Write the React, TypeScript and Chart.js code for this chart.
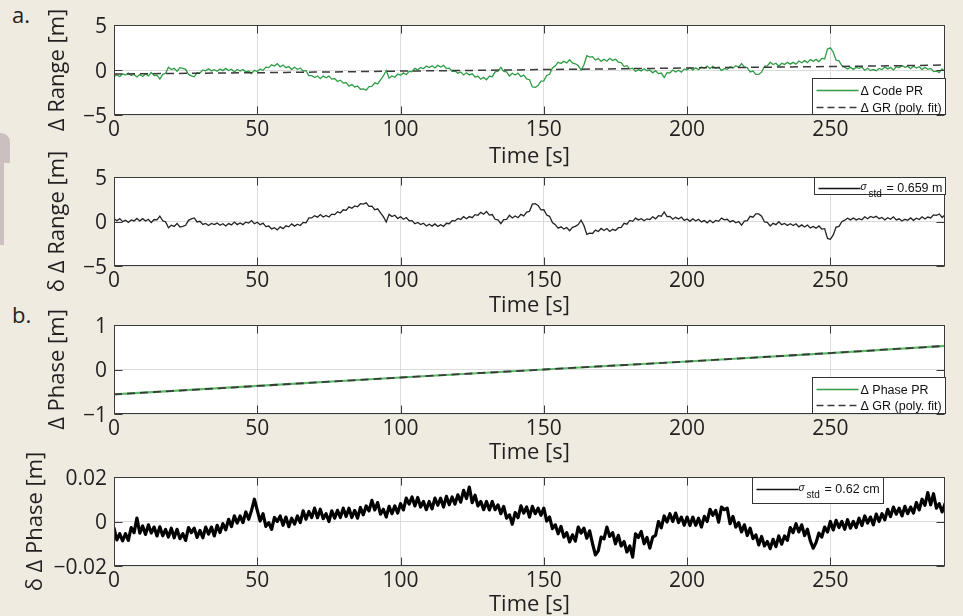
import { useEffect, useRef } from 'react';
import { Chart, registerables } from 'chart.js';

Chart.register(...registerables);

// ---------- data ----------
const X_TICKS = [0, 50, 100, 150, 200, 250];
const X_MAX = 290;
const RANGE_Y_TICKS = [-5, 0, 5];
const PHASE_Y_TICKS = [-1, 0, 1];
const PHASE_RES_Y_TICKS = [-0.02, 0, 0.02];

// sample times (1 s sampling) for the dense series
const TIME = Array.from({ length: 291 }, (_, i) => i);

// a. Δ Code PR [m]
const CODE_PR = [
  -0.75, -0.52, -0.75, -0.42, -0.56, -0.33, -0.61, -0.49, -0.77, -0.50,
  -0.72, -0.45, -0.65, -0.28, -0.62, -0.58, -1.00, -0.48, -0.37, 0.30,
  0.05, 0.19, -0.14, 0.26, 0.19, 0.07, -0.49, -0.66, -0.76, -0.31,
  -0.34, 0.01, -0.10, 0.13, -0.10, 0.03, -0.14, 0.10, -0.07, 0.18,
  -0.06, 0.09, -0.22, 0.06, -0.12, 0.06, -0.22, -0.11, -0.39, -0.04,
  -0.17, 0.11, -0.06, 0.32, 0.26, 0.58, 0.44, 0.70, 0.35, 0.55,
  0.26, 0.38, 0.05, 0.30, 0.08, 0.23, -0.12, -0.07, -0.62, -0.62,
  -0.83, -0.67, -0.96, -0.68, -0.86, -0.68, -1.01, -0.95, -1.28, -1.13,
  -1.46, -1.39, -1.79, -1.62, -1.89, -1.79, -2.14, -2.09, -2.24, -1.84,
  -1.83, -1.43, -1.54, -1.09, -0.66, -0.06, -0.91, -0.66, -0.81, -0.46,
  -0.59, -0.32, -0.52, -0.15, -0.17, 0.18, 0.03, 0.28, 0.13, 0.44,
  0.27, 0.48, 0.23, 0.51, 0.33, 0.51, 0.16, 0.21, -0.14, -0.11,
  -0.35, -0.22, -0.55, -0.31, -0.55, -0.43, -0.77, -0.70, -1.03, -0.82,
  -1.08, -0.68, -0.74, -0.21, -0.14, 0.29, -0.16, -0.21, -0.66, -0.36,
  -0.55, -0.35, -0.73, -0.56, -0.98, -1.08, -1.88, -1.93, -1.73, -1.23,
  -1.21, -0.61, -0.47, 0.23, 0.46, 0.86, 0.71, 0.96, 0.78, 1.14,
  0.79, 0.69, 0.49, -0.01, 0.59, 1.59, 1.44, 1.49, 1.11, 1.27,
  0.96, 1.19, 0.97, 1.30, 1.06, 1.20, 0.88, 0.83, 0.38, 0.48,
  0.10, 0.20, -0.16, 0.04, -0.10, 0.14, -0.08, 0.00, -0.31, -0.08,
  -0.40, -0.34, -0.83, -0.30, -0.33, 0.00, -0.22, -0.03, -0.25, 0.12,
  0.00, 0.27, -0.02, 0.24, 0.04, 0.34, 0.19, 0.44, 0.16, 0.42,
  0.20, 0.30, -0.06, 0.14, 0.07, 0.37, 0.22, 0.47, 0.32, 0.72,
  0.31, 0.27, -0.22, -0.12, -0.49, -0.49, -0.24, 0.41, 0.46, 0.86,
  0.61, 0.75, 0.42, 0.75, 0.62, 0.85, 0.65, 0.85, 0.65, 1.00,
  0.81, 1.04, 0.82, 1.15, 0.98, 1.18, 0.93, 1.28, 1.23, 2.33,
  2.47, 1.97, 1.09, 1.02, 0.49, 0.32, 0.10, 0.29, 0.07, 0.29,
  0.18, 0.31, -0.03, 0.19, -0.07, 0.05, -0.08, 0.18, 0.05, 0.32,
  0.12, 0.29, 0.01, 0.36, 0.24, 0.49, 0.29, 0.41, 0.14, 0.41,
  0.21, 0.36, 0.05, 0.30, 0.08, 0.18, -0.17, -0.12, -0.27, 0.13,
  -0.16,
];

// a. Δ GR (poly. fit) [m]
const GR_FIT_T = [0, 10, 20, 30, 40, 50, 60, 70, 80, 90, 100, 110, 120, 130, 140, 150, 160, 170, 180, 190, 200, 210, 220, 230, 240, 250, 260, 270, 280, 290];
const GR_FIT = [-0.45, -0.42, -0.39, -0.36, -0.33, -0.30, -0.27, -0.23, -0.20, -0.16, -0.12, -0.09, -0.06, -0.03, 0.01, 0.05, 0.08, 0.11, 0.15, 0.18, 0.22, 0.26, 0.29, 0.32, 0.36, 0.39, 0.42, 0.46, 0.50, 0.55];

// a. δ Δ Range [m]
const RANGE_RESID = [
  0.32, 0.09, 0.32, -0.01, 0.13, -0.10, 0.18, 0.06, 0.34, 0.07,
  0.32, 0.05, 0.25, -0.12, 0.22, 0.18, 0.60, 0.08, -0.03, -0.70,
  -0.41, -0.55, -0.22, -0.62, -0.55, -0.43, 0.13, 0.30, 0.40, -0.05,
  0.02, -0.33, -0.22, -0.45, -0.22, -0.35, -0.18, -0.42, -0.25, -0.50,
  -0.23, -0.38, -0.07, -0.35, -0.17, -0.35, -0.07, -0.18, 0.10, -0.25,
  -0.08, -0.36, -0.19, -0.57, -0.51, -0.83, -0.69, -0.95, -0.60, -0.80,
  -0.48, -0.60, -0.27, -0.52, -0.30, -0.45, -0.10, -0.15, 0.40, 0.40,
  0.65, 0.49, 0.78, 0.50, 0.68, 0.50, 0.83, 0.77, 1.10, 0.95,
  1.32, 1.25, 1.65, 1.48, 1.75, 1.65, 2.00, 1.95, 2.10, 1.70,
  1.72, 1.32, 1.43, 0.98, 0.55, -0.05, 0.80, 0.55, 0.70, 0.35,
  0.52, 0.25, 0.45, 0.08, 0.10, -0.25, -0.10, -0.35, -0.20, -0.51,
  -0.31, -0.52, -0.27, -0.55, -0.37, -0.55, -0.20, -0.25, 0.10, 0.07,
  0.35, 0.22, 0.55, 0.31, 0.55, 0.43, 0.77, 0.70, 1.03, 0.82,
  1.12, 0.72, 0.78, 0.25, 0.18, -0.25, 0.20, 0.25, 0.70, 0.40,
  0.62, 0.42, 0.80, 0.63, 1.05, 1.15, 1.95, 2.00, 1.80, 1.30,
  1.32, 0.72, 0.58, -0.12, -0.35, -0.75, -0.60, -0.85, -0.67, -1.03,
  -0.65, -0.55, -0.35, 0.15, -0.45, -1.45, -1.30, -1.35, -0.97, -1.13,
  -0.78, -1.01, -0.79, -1.12, -0.88, -1.02, -0.70, -0.65, -0.20, -0.30,
  0.12, 0.02, 0.38, 0.18, 0.32, 0.08, 0.30, 0.22, 0.53, 0.30,
  0.65, 0.59, 1.08, 0.55, 0.58, 0.25, 0.47, 0.28, 0.50, 0.13,
  0.29, 0.02, 0.31, 0.05, 0.25, -0.05, 0.10, -0.15, 0.13, -0.13,
  0.12, 0.02, 0.38, 0.18, 0.25, -0.05, 0.10, -0.15, 0.00, -0.40,
  0.05, 0.09, 0.58, 0.48, 0.85, 0.85, 0.60, -0.05, -0.10, -0.50,
  -0.21, -0.35, -0.02, -0.35, -0.22, -0.45, -0.25, -0.45, -0.25, -0.60,
  -0.38, -0.61, -0.39, -0.72, -0.55, -0.75, -0.50, -0.85, -0.80, -1.90,
  -2.00, -1.50, -0.62, -0.55, -0.02, 0.15, 0.37, 0.18, 0.40, 0.18,
  0.32, 0.19, 0.53, 0.31, 0.57, 0.45, 0.58, 0.32, 0.45, 0.18,
  0.42, 0.25, 0.53, 0.18, 0.30, 0.05, 0.25, 0.13, 0.40, 0.13,
  0.37, 0.22, 0.53, 0.28, 0.50, 0.40, 0.75, 0.70, 0.85, 0.45,
  0.75,
];

// b. Δ Phase PR and Δ GR (poly. fit) [m]
const PHASE_T = [0, 50, 100, 150, 200, 250, 290];
const PHASE_PR = [-0.56, -0.37, -0.18, 0.0, 0.18, 0.37, 0.53];
const PHASE_GR_FIT = [-0.56, -0.37, -0.18, 0.0, 0.18, 0.37, 0.53];

// b. δ Δ Phase [m]
const PHASE_RESID = [
  -0.0030, -0.0083, -0.0055, -0.0087, -0.0055, -0.0085, -0.0027, -0.0050, 0.0015, -0.0052,
  -0.0020, -0.0058, -0.0015, -0.0052, -0.0025, -0.0065, -0.0024, -0.0064, -0.0036, -0.0070,
  -0.0030, -0.0073, -0.0035, -0.0077, -0.0055, -0.0085, -0.0027, -0.0050, -0.0030, -0.0072,
  -0.0040, -0.0073, -0.0025, -0.0057, -0.0025, -0.0065, -0.0017, -0.0050, -0.0010, -0.0037,
  0.0010, -0.0023, 0.0025, -0.0007, 0.0025, -0.0005, 0.0043, 0.0010, 0.0050, 0.0100,
  0.0050, 0.0002, 0.0035, -0.0022, -0.0005, -0.0035, 0.0018, 0.0000, 0.0025, -0.0017,
  0.0020, -0.0023, 0.0015, -0.0012, 0.0025, -0.0005, 0.0048, 0.0010, 0.0045, 0.0018,
  0.0060, 0.0017, 0.0055, 0.0013, 0.0035, 0.0000, 0.0048, 0.0015, 0.0050, 0.0018,
  0.0060, 0.0022, 0.0060, 0.0018, 0.0050, 0.0015, 0.0063, 0.0030, 0.0070, 0.0048,
  0.0095, 0.0052, 0.0085, 0.0033, 0.0055, 0.0020, 0.0068, 0.0035, 0.0070, 0.0038,
  0.0080, 0.0052, 0.0105, 0.0078, 0.0110, 0.0070, 0.0108, 0.0065, 0.0090, 0.0053,
  0.0090, 0.0057, 0.0105, 0.0073, 0.0105, 0.0065, 0.0113, 0.0075, 0.0110, 0.0078,
  0.0120, 0.0087, 0.0140, 0.0103, 0.0155, 0.0085, 0.0118, 0.0070, 0.0090, 0.0053,
  0.0090, 0.0052, 0.0090, 0.0053, 0.0075, 0.0035, 0.0068, 0.0015, 0.0030, -0.0012,
  0.0040, 0.0017, 0.0070, 0.0038, 0.0065, 0.0020, 0.0068, 0.0035, 0.0060, 0.0028,
  0.0060, 0.0002, 0.0020, -0.0032, -0.0015, -0.0055, -0.0022, -0.0070, -0.0050, -0.0092,
  -0.0060, -0.0088, -0.0025, -0.0052, -0.0030, -0.0075, -0.0042, -0.0100, -0.0150, -0.0132,
  -0.0070, -0.0078, -0.0025, -0.0067, -0.0050, -0.0100, -0.0062, -0.0110, -0.0090, -0.0137,
  -0.0110, -0.0160, -0.0055, -0.0072, -0.0045, -0.0100, -0.0072, -0.0120, -0.0070, -0.0062,
  0.0000, -0.0028, 0.0025, -0.0002, 0.0035, 0.0000, 0.0038, -0.0005, 0.0020, -0.0017,
  0.0020, -0.0018, 0.0020, -0.0017, 0.0015, -0.0025, 0.0023, 0.0000, 0.0055, 0.0028,
  0.0050, -0.0003, 0.0065, 0.0053, 0.0060, -0.0010, 0.0023, -0.0025, -0.0005, -0.0047,
  -0.0015, -0.0063, -0.0030, -0.0077, -0.0060, -0.0105, -0.0067, -0.0110, -0.0090, -0.0122,
  -0.0080, -0.0113, -0.0065, -0.0102, -0.0065, -0.0085, -0.0027, -0.0050, -0.0010, -0.0047,
  -0.0015, -0.0063, -0.0035, -0.0087, -0.0120, -0.0095, -0.0052, -0.0070, -0.0025, -0.0047,
  0.0000, -0.0038, 0.0005, -0.0027, 0.0000, -0.0035, 0.0008, -0.0030, 0.0000, -0.0027,
  0.0015, -0.0018, 0.0025, -0.0007, 0.0020, -0.0015, 0.0033, 0.0000, 0.0035, 0.0008,
  0.0055, 0.0022, 0.0065, 0.0033, 0.0060, 0.0025, 0.0068, 0.0035, 0.0065, 0.0038,
  0.0085, 0.0052, 0.0100, 0.0073, 0.0130, 0.0075, 0.0125, 0.0060, 0.0080, 0.0043,
  0.0080,
];

// ---------- styling ----------
const FONT = "'Open Sans', 'DejaVu Sans', sans-serif";
const LEGEND_FONT = "'Liberation Sans', Arial, sans-serif";
const TEXT = '#231f20';
const GREEN = '#2e9d45';
const DASH = '#3a3a3a';
const BG = '#efebe1';

type LegendItem = { style: 'solid' | 'dashed'; color: string; label?: string; sigma?: string };
type LegendSpec = { anchor: 'top' | 'bottom'; right: number; w: number; h: number; rows: number[]; items: LegendItem[] };
type PanelSpec = {
  top: number;
  height: number;
  padTop: number;
  xAxisH: number;
  yMin: number;
  yMax: number;
  yTicks: number[];
  yTitle: string;
  yTitlePad: number;
  datasets: any[];
  legend: LegendSpec;
};

const pts = (xs: number[], ys: number[]) => xs.map((x, i) => ({ x, y: ys[i] }));
const fmt = (v: number) => String(v).replace('-', '\u2212');

const framePlugin = {
  id: 'frame',
  beforeDraw(chart: any) {
    const { ctx, chartArea: a } = chart;
    ctx.save();
    ctx.fillStyle = '#ffffff';
    ctx.fillRect(a.left, a.top, a.right - a.left, a.bottom - a.top);
    ctx.restore();
  },
  afterDatasetsDraw(chart: any, _args: any, opts: any) {
    const { ctx, chartArea: a, scales } = chart;
    const L = Math.round(a.left) + 0.5;
    const R = Math.round(a.right) - 0.5;
    const T = Math.round(a.top) + 0.5;
    const B = Math.round(a.bottom) - 0.5;
    const tl = 8;
    ctx.save();
    ctx.strokeStyle = '#3a3a3a';
    ctx.lineWidth = 1;
    ctx.setLineDash([]);
    ctx.beginPath();
    for (const t of scales.x.ticks) {
      const x = Math.round(scales.x.getPixelForValue(t.value)) + 0.5;
      ctx.moveTo(x, B);
      ctx.lineTo(x, B - tl);
      ctx.moveTo(x, T);
      ctx.lineTo(x, T + tl);
    }
    for (const t of scales.y.ticks) {
      const y = Math.round(scales.y.getPixelForValue(t.value)) + 0.5;
      ctx.moveTo(L, y);
      ctx.lineTo(L + tl, y);
      ctx.moveTo(R, y);
      ctx.lineTo(R - tl, y);
    }
    ctx.stroke();
    ctx.strokeRect(L, T, R - L, B - T);

    const lg: LegendSpec = opts.legend;
    if (lg) {
      const bx = Math.round(a.right - lg.right - lg.w) + 0.5;
      const by = lg.anchor === 'top' ? T : Math.round(a.bottom - lg.h) - 0.5;
      ctx.fillStyle = '#ffffff';
      ctx.fillRect(bx, by, lg.w, lg.h);
      ctx.strokeStyle = '#333333';
      ctx.strokeRect(bx, by, lg.w, lg.h);
      lg.items.forEach((it, i) => {
        const cy = Math.round(by + lg.rows[i]) + 0.5;
        ctx.beginPath();
        ctx.strokeStyle = it.color;
        ctx.lineWidth = 1.3;
        ctx.setLineDash(it.style === 'dashed' ? [7, 4] : []);
        ctx.moveTo(bx + 4, cy);
        ctx.lineTo(bx + 46, cy);
        ctx.stroke();
        ctx.setLineDash([]);
        ctx.fillStyle = '#111111';
        ctx.textBaseline = 'alphabetic';
        ctx.textAlign = 'left';
        if (it.sigma) {
          ctx.font = `italic 10px ${LEGEND_FONT}`;
          ctx.fillText('\u03c3', bx + 46, cy + 1.5);
          ctx.font = `10px ${LEGEND_FONT}`;
          ctx.fillText('std', bx + 54, cy + 8);
          ctx.font = `12.5px ${LEGEND_FONT}`;
          ctx.fillText(it.sigma, bx + 72, cy + 3.5);
        } else if (it.label) {
          ctx.font = `12.5px ${LEGEND_FONT}`;
          ctx.fillText(it.label, bx + 48, cy + 4.5);
        }
      });
    }
    ctx.restore();
  },
};

function makeConfig(p: PanelSpec): any {
  return {
    type: 'line',
    data: { datasets: p.datasets },
    plugins: [framePlugin],
    options: {
      animation: false,
      responsive: false,
      maintainAspectRatio: false,
      events: [],
      layout: { padding: { left: 0, right: 18, top: p.padTop, bottom: 0 } },
      elements: { point: { radius: 0 }, line: { tension: 0 } },
      plugins: {
        legend: { display: false },
        tooltip: { enabled: false },
        frame: { legend: p.legend },
      },
      scales: {
        x: {
          type: 'linear',
          min: 0,
          max: X_MAX,
          afterBuildTicks: (s: any) => {
            s.ticks = X_TICKS.map((v) => ({ value: v }));
          },
          afterFit: (s: any) => {
            s.height = p.xAxisH;
          },
          grid: { color: '#dcdcdc', lineWidth: 1, drawTicks: false },
          border: { display: false },
          ticks: {
            padding: 2,
            color: TEXT,
            font: { family: FONT, size: 21 },
            maxRotation: 0,
            autoSkip: false,
            callback: (v: any) => fmt(Number(v)),
          },
          title: {
            display: true,
            text: 'Time [s]',
            color: TEXT,
            font: { family: FONT, size: 22, lineHeight: 1.2 },
            padding: { top: 0, bottom: 0 },
          },
        },
        y: {
          type: 'linear',
          min: p.yMin,
          max: p.yMax,
          afterBuildTicks: (s: any) => {
            s.ticks = p.yTicks.map((v) => ({ value: v }));
          },
          afterFit: (s: any) => {
            s.width = 114;
          },
          grid: { color: '#dcdcdc', lineWidth: 1, drawTicks: false },
          border: { display: false },
          ticks: {
            padding: 7,
            color: TEXT,
            font: { family: FONT, size: 21 },
            autoSkip: false,
            labelOffset: (c: any) => (c.tick && c.tick.value === p.yMin ? -1 : 2),
            callback: (v: any) => fmt(Number(v)),
          },
          title: {
            display: true,
            text: p.yTitle,
            color: TEXT,
            font: { family: FONT, size: 22, lineHeight: 1.2 },
            padding: { top: p.yTitlePad, bottom: 0 },
          },
        },
      },
    },
  };
}

const PANELS: PanelSpec[] = [
  {
    top: 5,
    height: 165,
    padTop: 20,
    xAxisH: 55,
    yMin: -5,
    yMax: 5,
    yTicks: RANGE_Y_TICKS,
    yTitle: '\u0394 Range [m]',
    yTitlePad: 45,
    datasets: [
      { data: pts(GR_FIT_T, GR_FIT), borderColor: DASH, borderWidth: 1.5, borderDash: [8, 5], order: 0 },
      { data: pts(TIME, CODE_PR), borderColor: GREEN, borderWidth: 1.3, order: 1 },
    ],
    legend: {
      anchor: 'bottom', right: 0, w: 133, h: 36, rows: [11, 28],
      items: [
        { style: 'solid', color: GREEN, label: '\u0394 Code PR' },
        { style: 'dashed', color: DASH, label: '\u0394 GR (poly. fit)' },
      ],
    },
  },
  {
    top: 140,
    height: 179,
    padTop: 37,
    xAxisH: 53,
    yMin: -5,
    yMax: 5,
    yTicks: RANGE_Y_TICKS,
    yTitle: '\u03b4 \u0394 Range [m]',
    yTitlePad: 45,
    datasets: [{ data: pts(TIME, RANGE_RESID), borderColor: '#222222', borderWidth: 1.3 }],
    legend: {
      anchor: 'top', right: 0, w: 131, h: 17, rows: [10],
      items: [{ style: 'solid', color: '#111111', sigma: '= 0.659 m' }],
    },
  },
  {
    top: 305,
    height: 161,
    padTop: 20,
    xAxisH: 52,
    yMin: -1,
    yMax: 1,
    yTicks: PHASE_Y_TICKS,
    yTitle: '\u0394 Phase [m]',
    yTitlePad: 45,
    datasets: [
      { data: pts(PHASE_T, PHASE_GR_FIT), borderColor: DASH, borderWidth: 1.8, borderDash: [8, 5], order: 0 },
      { data: pts(PHASE_T, PHASE_PR), borderColor: '#5dbb6a', borderWidth: 2.2, order: 1 },
    ],
    legend: {
      anchor: 'bottom', right: 0, w: 133, h: 36, rows: [11, 27],
      items: [
        { style: 'solid', color: GREEN, label: '\u0394 Phase PR' },
        { style: 'dashed', color: DASH, label: '\u0394 GR (poly. fit)' },
      ],
    },
  },
  {
    top: 440,
    height: 178,
    padTop: 37,
    xAxisH: 52,
    yMin: -0.02,
    yMax: 0.02,
    yTicks: PHASE_RES_Y_TICKS,
    yTitle: '\u03b4 \u0394 Phase [m]',
    yTitlePad: 23,
    datasets: [
      {
        data: pts(TIME, PHASE_RESID),
        borderColor: '#000000',
        borderWidth: 3.2,
        borderJoinStyle: 'round',
        borderCapStyle: 'round',
      },
    ],
    legend: {
      anchor: 'top', right: 62, w: 131, h: 26, rows: [11],
      items: [{ style: 'solid', color: '#111111', sigma: '= 0.62 cm' }],
    },
  },
];

function Panel({ spec }: { spec: PanelSpec }) {
  const ref = useRef<HTMLCanvasElement | null>(null);
  useEffect(() => {
    if (!ref.current) return;
    const chart = new Chart(ref.current, makeConfig(spec));
    return () => chart.destroy();
  }, [spec]);
  return (
    <canvas
      ref={ref}
      width={963}
      height={spec.height}
      style={{ position: 'absolute', left: 0, top: spec.top, width: 963, height: spec.height, display: 'block' }}
    />
  );
}

export default function App() {
  const label = {
    position: 'absolute' as const,
    left: 12,
    fontFamily: FONT,
    fontSize: 22,
    lineHeight: '22px',
    color: TEXT,
  };
  return (
    <div
      style={{
        position: 'fixed',
        left: 0,
        top: 0,
        width: 963,
        height: 616,
        background: BG,
        overflow: 'hidden',
      }}
    >
      <div style={{ position: 'absolute', left: 0, top: 133, width: 10, height: 30, background: '#cbbfc0', borderTopRightRadius: 9 }} />
      <div style={{ position: 'absolute', left: 0, top: 150, width: 4, height: 95, background: '#cbbfc0' }} />
      <div style={{ ...label, top: 3 }}>a.</div>
      <div style={{ ...label, top: 303 }}>b.</div>
      {PANELS.map((p, i) => (
        <Panel key={i} spec={p} />
      ))}
    </div>
  );
}
